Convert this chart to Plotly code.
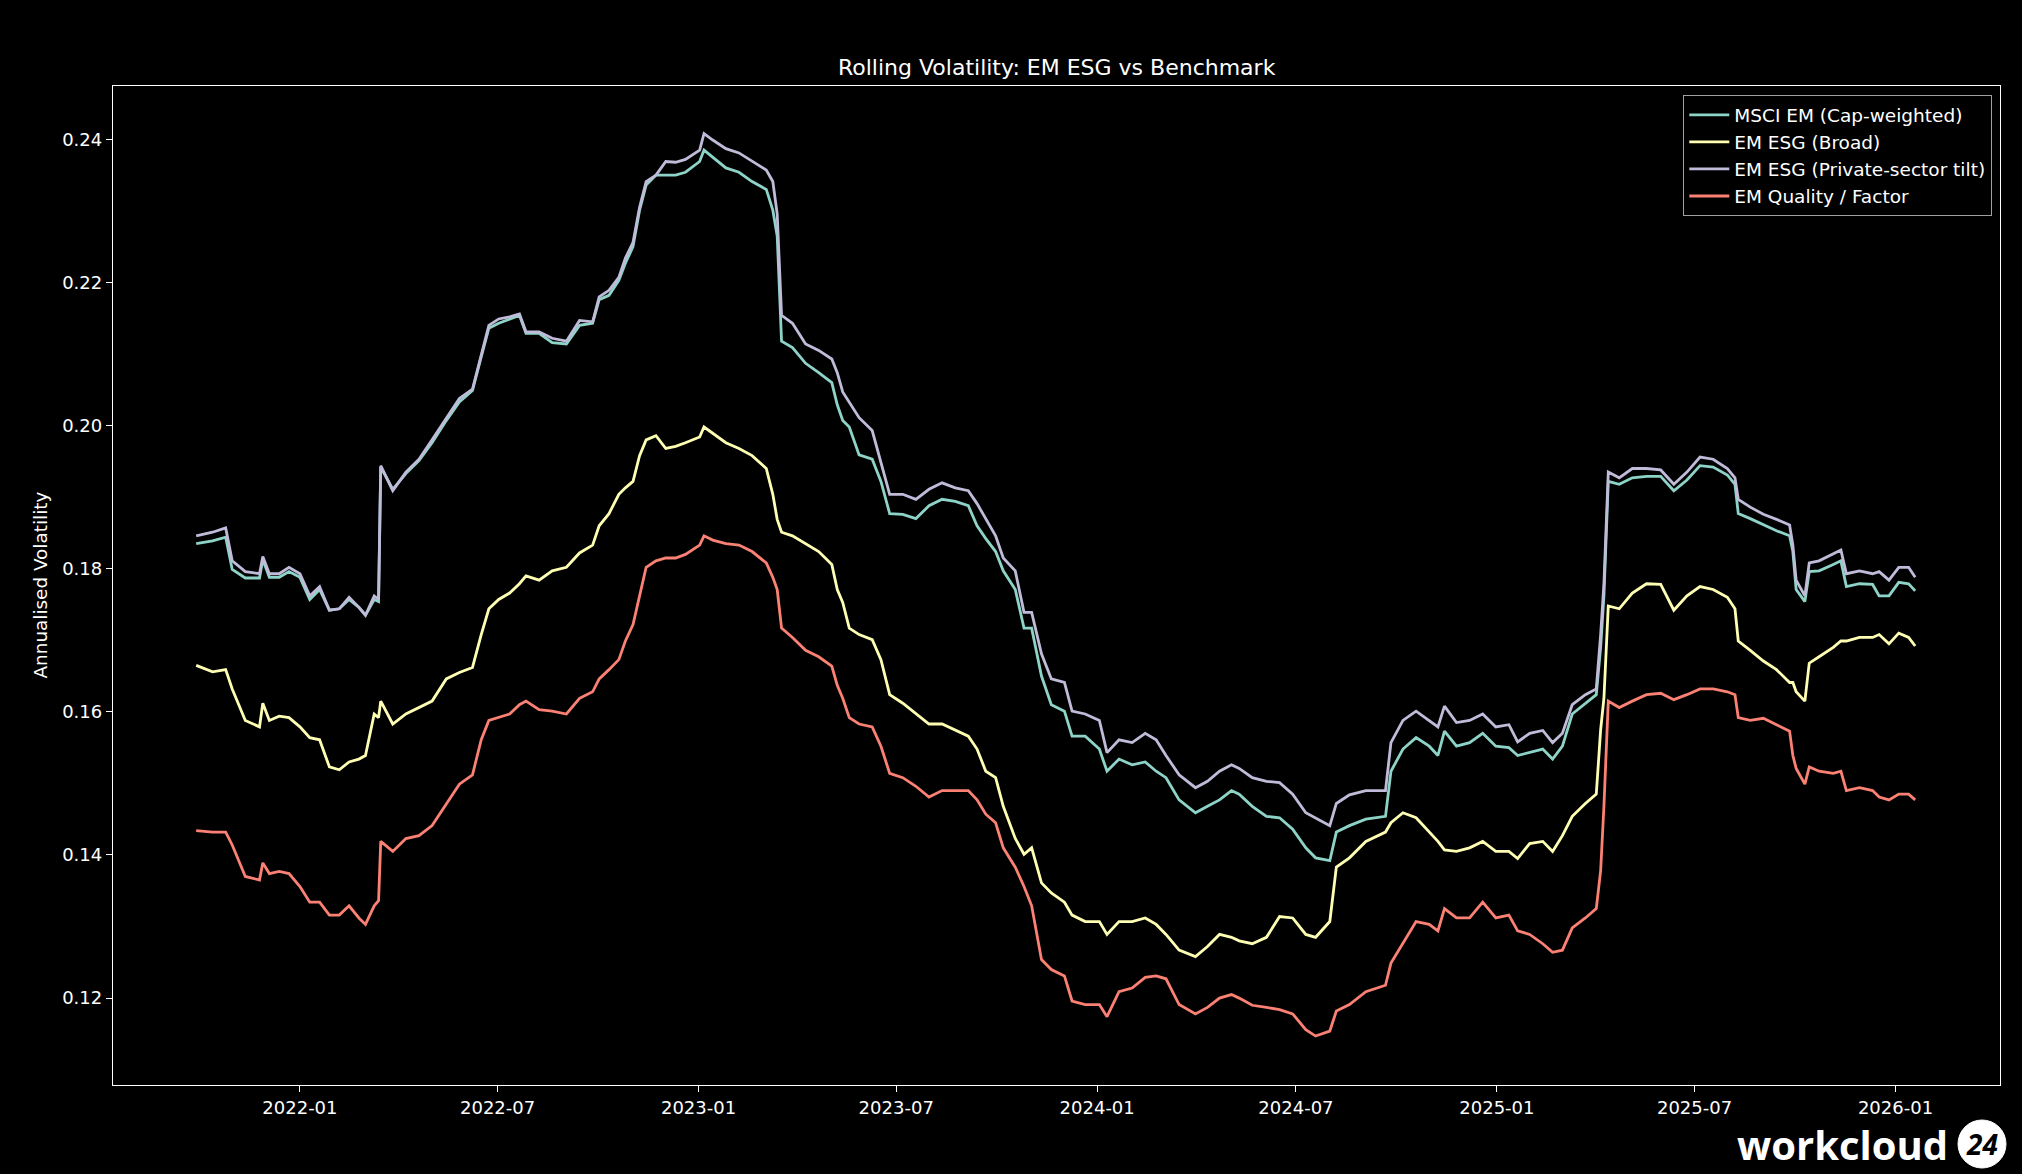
import plotly.graph_objects as go

# ---------------- data ----------------
dates = [
    "2021-09-28", "2021-10-13", "2021-10-25", "2021-10-31", "2021-11-12", "2021-11-25", "2021-11-28", "2021-12-04", "2021-12-13", "2021-12-22",
    "2022-01-01", "2022-01-10", "2022-01-19", "2022-01-28", "2022-02-06", "2022-02-15", "2022-02-24", "2022-03-02", "2022-03-10", "2022-03-14",
    "2022-03-16", "2022-03-27", "2022-04-08", "2022-04-20", "2022-05-02", "2022-05-15", "2022-05-27", "2022-06-08", "2022-06-16", "2022-06-23",
    "2022-07-02",
    "2022-07-12", "2022-07-21", "2022-07-27", "2022-08-08", "2022-08-20", "2022-09-02", "2022-09-14", "2022-09-26", "2022-10-02", "2022-10-11",
    "2022-10-20", "2022-10-26", "2022-11-02", "2022-11-08", "2022-11-14", "2022-11-23", "2022-12-02", "2022-12-11", "2022-12-20", "2023-01-02",
    "2023-01-06", "2023-01-14", "2023-01-26", "2023-02-07", "2023-02-19", "2023-03-04", "2023-03-10", "2023-03-14", "2023-03-18", "2023-03-28",
    "2023-04-09", "2023-04-21", "2023-05-03", "2023-05-08",
    "2023-05-13", "2023-05-19", "2023-05-28", "2023-06-09", "2023-06-17", "2023-06-25", "2023-07-07", "2023-07-19", "2023-07-31", "2023-08-12",
    "2023-08-24", "2023-09-05", "2023-09-13", "2023-09-21", "2023-09-30", "2023-10-07", "2023-10-18", "2023-10-26", "2023-11-02", "2023-11-11",
    "2023-11-20", "2023-12-02", "2023-12-09", "2023-12-21", "2024-01-03", "2024-01-10", "2024-01-21", "2024-02-02", "2024-02-14",
    "2024-02-24", "2024-03-04", "2024-03-16", "2024-03-31", "2024-04-11", "2024-04-22", "2024-05-03", "2024-05-10", "2024-05-22", "2024-06-04",
    "2024-06-16", "2024-06-28", "2024-07-10", "2024-07-19", "2024-08-01", "2024-08-07", "2024-08-19", "2024-09-03", "2024-09-21", "2024-09-26",
    "2024-10-07", "2024-10-19", "2024-10-31", "2024-11-08", "2024-11-14", "2024-11-25",
    "2024-12-07", "2024-12-19", "2024-12-31", "2025-01-12", "2025-01-20", "2025-01-31", "2025-02-12", "2025-02-21", "2025-03-02", "2025-03-11",
    "2025-03-23", "2025-04-02", "2025-04-06", "2025-04-09", "2025-04-13", "2025-04-23", "2025-05-05", "2025-05-18", "2025-05-31", "2025-06-12",
    "2025-06-24", "2025-07-06", "2025-07-18", "2025-07-31", "2025-08-07", "2025-08-10", "2025-08-21", "2025-09-02", "2025-09-14", "2025-09-26",
    "2025-09-29", "2025-10-02", "2025-10-10", "2025-10-14", "2025-10-23", "2025-11-05", "2025-11-12", "2025-11-17", "2025-11-29", "2025-12-11",
    "2025-12-17", "2025-12-26", "2026-01-04", "2026-01-13", "2026-01-19",
]

msci_em = [
    0.1835, 0.1839, 0.1844, 0.1799, 0.1787, 0.1787, 0.1813, 0.1788, 0.1788, 0.1796,
    0.1788, 0.1757, 0.1771, 0.1742, 0.1744, 0.1757, 0.1746, 0.1735, 0.1757, 0.1754,
    0.1942, 0.1911, 0.1933, 0.1951, 0.1976, 0.2007, 0.2033, 0.2049, 0.2096, 0.2136,
    0.2143,
    0.2149, 0.2154, 0.2129, 0.2129, 0.2116, 0.2114, 0.2140, 0.2143, 0.2176, 0.2182,
    0.2203, 0.2227, 0.2250, 0.2301, 0.2336, 0.2350, 0.2350, 0.2350, 0.2354, 0.2369,
    0.2385, 0.2375, 0.2360, 0.2354, 0.2341, 0.2330, 0.2301, 0.2265, 0.2118, 0.2109,
    0.2087, 0.2074, 0.2060, 0.2029,
    0.2007, 0.1998, 0.1959, 0.1953, 0.1922, 0.1877, 0.1876, 0.1870, 0.1888, 0.1897,
    0.1894, 0.1888, 0.1860, 0.1842, 0.1824, 0.1797, 0.1771, 0.1717, 0.1717, 0.1650,
    0.1610, 0.1601, 0.1566, 0.1566, 0.1548, 0.1517, 0.1534, 0.1526, 0.1530,
    0.1517, 0.1508, 0.1477, 0.1459, 0.1468, 0.1477, 0.1490, 0.1485, 0.1468, 0.1454,
    0.1452, 0.1436, 0.1410, 0.1396, 0.1392, 0.1432, 0.1441, 0.1450, 0.1454, 0.1517,
    0.1548, 0.1564, 0.1552, 0.1539, 0.1573, 0.1552,
    0.1557, 0.1570, 0.1552, 0.1550, 0.1539, 0.1543, 0.1548, 0.1534, 0.1552, 0.1597,
    0.1612, 0.1624, 0.1690, 0.1762, 0.1922, 0.1918, 0.1927, 0.1929, 0.1929, 0.1909,
    0.1924, 0.1944, 0.1942, 0.1931, 0.1918, 0.1877, 0.1870, 0.1861, 0.1853, 0.1846,
    0.1824, 0.1771, 0.1754, 0.1796, 0.1797, 0.1806, 0.1811, 0.1775, 0.1779, 0.1778,
    0.1762, 0.1762, 0.1781, 0.1779, 0.1769,
]

esg_broad = [
    0.1665, 0.1656, 0.1659, 0.1632, 0.1588, 0.1579, 0.1612, 0.1588, 0.1594, 0.1592,
    0.1579, 0.1564, 0.1561, 0.1523, 0.1519, 0.1530, 0.1534, 0.1539, 0.1597, 0.1592,
    0.1615, 0.1583, 0.1597, 0.1606, 0.1615, 0.1646, 0.1655, 0.1662, 0.1708, 0.1744,
    0.1757,
    0.1766, 0.1779, 0.1790, 0.1784, 0.1797, 0.1802, 0.1822, 0.1833, 0.1860, 0.1877,
    0.1904, 0.1913, 0.1922, 0.1958, 0.1980, 0.1986, 0.1968, 0.1971, 0.1976, 0.1984,
    0.1998, 0.1989, 0.1976, 0.1968, 0.1958, 0.1940, 0.1904, 0.1869, 0.1851, 0.1846,
    0.1835, 0.1824, 0.1806, 0.1771,
    0.1753, 0.1717, 0.1708, 0.1701, 0.1673, 0.1624, 0.1612, 0.1597, 0.1583, 0.1583,
    0.1575, 0.1566, 0.1548, 0.1517, 0.1508, 0.1468, 0.1423, 0.1401, 0.1410, 0.1361,
    0.1347, 0.1334, 0.1316, 0.1307, 0.1307, 0.1289, 0.1307, 0.1307, 0.1312,
    0.1303, 0.1289, 0.1267, 0.1258, 0.1272, 0.1289, 0.1285, 0.1280, 0.1276, 0.1285,
    0.1314, 0.1312, 0.1289, 0.1285, 0.1307, 0.1383, 0.1396, 0.1419, 0.1432, 0.1445,
    0.1459, 0.1452, 0.1432, 0.1419, 0.1407, 0.1405,
    0.1410, 0.1419, 0.1405, 0.1405, 0.1395, 0.1416, 0.1419, 0.1405, 0.1427, 0.1454,
    0.1472, 0.1485, 0.1575, 0.1619, 0.1748, 0.1744, 0.1766, 0.1779, 0.1778, 0.1742,
    0.1762, 0.1775, 0.1771, 0.1760, 0.1744, 0.1699, 0.1686, 0.1671, 0.1659, 0.1641,
    0.1641, 0.1628, 0.1615, 0.1668, 0.1677, 0.1690, 0.1699, 0.1699, 0.1704, 0.1704,
    0.1708, 0.1695, 0.1710, 0.1704, 0.1692,
]

esg_private = [
    0.1846, 0.1851, 0.1857, 0.1811, 0.1796, 0.1793, 0.1817, 0.1793, 0.1793, 0.1802,
    0.1793, 0.1762, 0.1775, 0.1742, 0.1744, 0.1760, 0.1746, 0.1735, 0.1762, 0.1757,
    0.1944, 0.1909, 0.1935, 0.1953, 0.1980, 0.2011, 0.2038, 0.2051, 0.2100, 0.2140,
    0.2149,
    0.2152, 0.2156, 0.2131, 0.2131, 0.2122, 0.2118, 0.2147, 0.2145, 0.2180, 0.2189,
    0.2207, 0.2234, 0.2256, 0.2305, 0.2341, 0.2350, 0.2369, 0.2368, 0.2372, 0.2385,
    0.2408, 0.2399, 0.2387, 0.2381, 0.2369, 0.2357, 0.2341, 0.2296, 0.2154, 0.2143,
    0.2114, 0.2105, 0.2093, 0.2074,
    0.2047, 0.2033, 0.2011, 0.1993, 0.1949, 0.1904, 0.1904, 0.1897, 0.1911, 0.1920,
    0.1913, 0.1909, 0.1891, 0.1869, 0.1846, 0.1815, 0.1797, 0.1739, 0.1739, 0.1681,
    0.1646, 0.1641, 0.1601, 0.1597, 0.1588, 0.1543, 0.1561, 0.1557, 0.1570,
    0.1561, 0.1539, 0.1512, 0.1494, 0.1503, 0.1517, 0.1526, 0.1521, 0.1508, 0.1503,
    0.1501, 0.1485, 0.1459, 0.1452, 0.1441, 0.1472, 0.1484, 0.1490, 0.1490, 0.1557,
    0.1588, 0.1601, 0.1588, 0.1579, 0.1608, 0.1585,
    0.1588, 0.1597, 0.1579, 0.1582, 0.1558, 0.1570, 0.1574, 0.1557, 0.1570, 0.1610,
    0.1624, 0.1632, 0.1708, 0.1779, 0.1935, 0.1927, 0.1940, 0.1940, 0.1938, 0.1918,
    0.1935, 0.1956, 0.1953, 0.1940, 0.1927, 0.1897, 0.1886, 0.1876, 0.1869, 0.1861,
    0.1833, 0.1784, 0.1762, 0.1808, 0.1811, 0.1820, 0.1826, 0.1793, 0.1797, 0.1793,
    0.1796, 0.1784, 0.1802, 0.1802, 0.1788,
]

quality_factor = [
    0.1434, 0.1432, 0.1432, 0.1414, 0.1370, 0.1365, 0.1389, 0.1374, 0.1377, 0.1374,
    0.1356, 0.1334, 0.1334, 0.1316, 0.1316, 0.1329, 0.1312, 0.1303, 0.1329, 0.1336,
    0.1419, 0.1405, 0.1423, 0.1427, 0.1441, 0.1472, 0.1499, 0.1512, 0.1561, 0.1588,
    0.1592,
    0.1597, 0.1610, 0.1615, 0.1603, 0.1601, 0.1597, 0.1619, 0.1628, 0.1646, 0.1659,
    0.1673, 0.1699, 0.1722, 0.1762, 0.1802, 0.1811, 0.1815, 0.1815, 0.1820, 0.1833,
    0.1846, 0.1840, 0.1835, 0.1833, 0.1824, 0.1808, 0.1788, 0.1771, 0.1717, 0.1704,
    0.1686, 0.1677, 0.1664, 0.1637,
    0.1619, 0.1592, 0.1583, 0.1579, 0.1552, 0.1514, 0.1508, 0.1496, 0.1481, 0.1490,
    0.1490, 0.1490, 0.1477, 0.1457, 0.1445, 0.1410, 0.1383, 0.1356, 0.1329, 0.1254,
    0.1240, 0.1231, 0.1196, 0.1191, 0.1191, 0.1174, 0.1209, 0.1214, 0.1229,
    0.1231, 0.1227, 0.1191, 0.1178, 0.1187, 0.1200, 0.1205, 0.1200, 0.1190, 0.1187,
    0.1184, 0.1178, 0.1156, 0.1147, 0.1154, 0.1182, 0.1191, 0.1209, 0.1218, 0.1249,
    0.1276, 0.1307, 0.1303, 0.1294, 0.1325, 0.1312,
    0.1312, 0.1334, 0.1312, 0.1316, 0.1294, 0.1289, 0.1276, 0.1264, 0.1267, 0.1298,
    0.1312, 0.1325, 0.1378, 0.1468, 0.1615, 0.1606, 0.1615, 0.1624, 0.1626, 0.1617,
    0.1624, 0.1632, 0.1632, 0.1628, 0.1624, 0.1592, 0.1588, 0.1591, 0.1582, 0.1573,
    0.1539, 0.1521, 0.1499, 0.1523, 0.1517, 0.1514, 0.1517, 0.1490, 0.1494, 0.1490,
    0.1481, 0.1477, 0.1485, 0.1485, 0.1477,
]

series_names = ["MSCI EM (Cap-weighted)", "EM ESG (Broad)", "EM ESG (Private-sector tilt)", "EM Quality / Factor"]
series_colors = ["#8dd3c7", "#feffb3", "#bfbbd9", "#fa8174"]
y_ticks = [0.12, 0.14, 0.16, 0.18, 0.20, 0.22, 0.24]
x_ticks = ["2022-01-01", "2022-07-01", "2023-01-01", "2023-07-01", "2024-01-01",
           "2024-07-01", "2025-01-01", "2025-07-01", "2026-01-01"]
x_tick_labels = ["2022-01", "2022-07", "2023-01", "2023-07", "2024-01",
                 "2024-07", "2025-01", "2025-07", "2026-01"]

title_text = "Rolling Volatility: EM ESG vs Benchmark"
y_title = "Annualised Volatility"

# ---------------- figure ----------------
W, H = 2022, 1174
L, R, T, B = 113, 22, 86, 89
PW, PH = W - L - R, H - T - B
FONT = "DejaVu Sans"

fig = go.Figure()
for name, col, vals in zip(series_names, series_colors,
                           [msci_em, esg_broad, esg_private, quality_factor]):
    fig.add_trace(go.Scatter(x=dates, y=vals, mode="lines", name=name,
                             line=dict(color=col, width=2.8)))

axis_common = dict(showgrid=False, zeroline=False, showline=True, mirror=True,
                   linecolor="#ffffff", linewidth=1.3, ticks="outside", ticklen=6,
                   tickwidth=1.3, tickcolor="#ffffff",
                   tickfont=dict(family=FONT, size=18, color="#ffffff"))

fig.update_xaxes(type="date", range=["2021-07-13 20:00", "2026-04-06 16:00"],
                 tickvals=x_ticks, ticktext=x_tick_labels, **axis_common)
fig.update_yaxes(range=[0.10786, 0.24745], tickvals=y_ticks,
                 ticktext=[f"{v:.2f}" for v in y_ticks], **axis_common)

fig.update_layout(
    width=W, height=H,
    margin=dict(l=L, r=R, t=T, b=B, pad=0),
    paper_bgcolor="#000000", plot_bgcolor="#000000",
    font=dict(family=FONT, color="#ffffff", size=18),
    showlegend=True,
    legend=dict(x=(1992 - L) / PW, y=(H - B - 95) / PH, xanchor="right", yanchor="top",
                bgcolor="#000000", bordercolor="#a0a0a0", borderwidth=1.3,
                font=dict(family=FONT, size=18.5, color="#ffffff"),
                itemwidth=40, tracegroupgap=0),
)

# title
fig.add_annotation(text=title_text, xref="paper", yref="paper",
                   x=0.5, y=(H - B - 67) / PH, xanchor="center", yanchor="middle",
                   showarrow=False, font=dict(family=FONT, size=22, color="#ffffff"))
# y-axis title
fig.add_annotation(text=y_title, xref="paper", yref="paper",
                   x=(40 - L) / PW, y=0.5, xanchor="center", yanchor="middle",
                   textangle=-90, showarrow=False,
                   font=dict(family=FONT, size=18.4, color="#ffffff"))

# watermark logo
logo_y = (H - B - 1144) / PH
fig.add_annotation(text="<b>workcloud</b>", xref="paper", yref="paper",
                   x=(1950 - L) / PW, y=logo_y, xanchor="right", yanchor="middle",
                   showarrow=False, font=dict(family="Open Sans", size=40, color="#ffffff"))
cx = (1982 - L) / PW
fig.add_shape(type="circle", xref="paper", yref="paper", xsizemode="pixel", ysizemode="pixel",
              xanchor=cx, yanchor=logo_y, x0=-24, x1=24, y0=-24, y1=24,
              fillcolor="#ffffff", line=dict(color="#ffffff", width=1))
fig.add_annotation(text="<b><i>24</i></b>", xref="paper", yref="paper",
                   x=cx, y=logo_y, xanchor="center", yanchor="middle",
                   showarrow=False, font=dict(family="Open Sans", size=28, color="#000000"))

fig.write_html("out.html",
               config={"displayModeBar": False},
               post_script="document.body.style.margin='0';document.body.style.background='#000000';")
